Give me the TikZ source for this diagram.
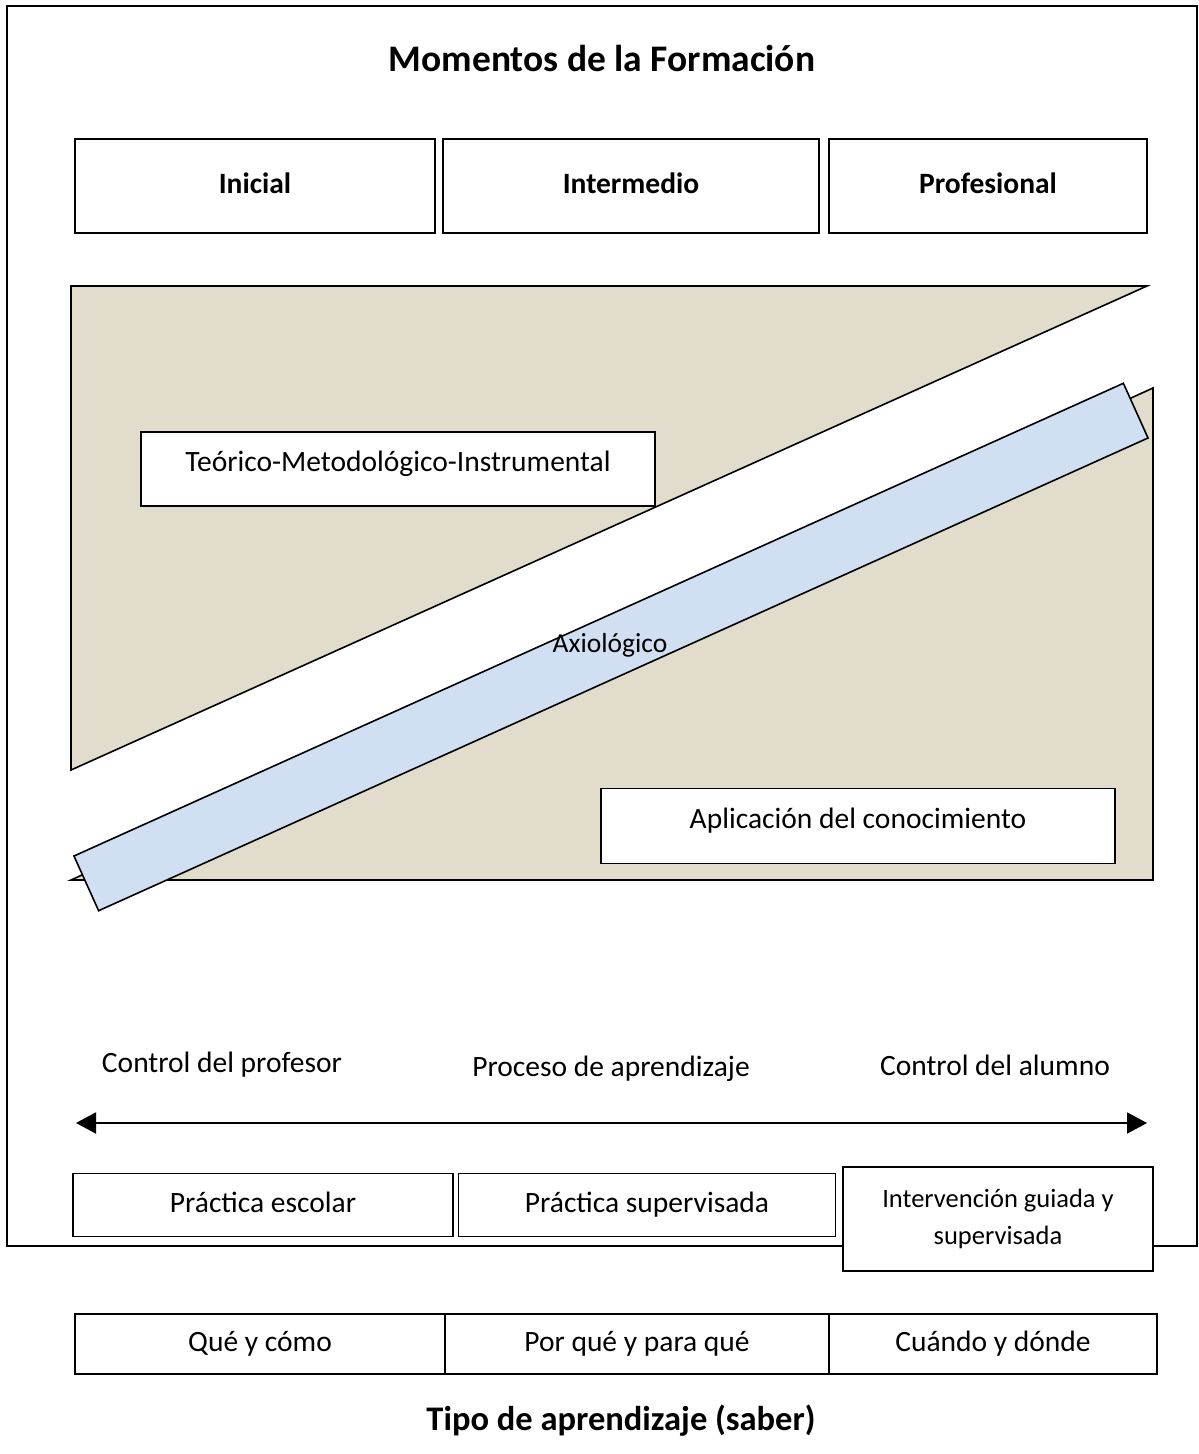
\documentclass[tikz,border=0pt]{standalone}
\usepackage{fontspec}
\setmainfont{Carlito}
\usetikzlibrary{arrows.meta}
\definecolor{tan}{RGB}{225,220,203}
\definecolor{lblue}{RGB}{208,224,242}
\begin{document}
\begin{tikzpicture}[x=1pt,y=-1pt,
  base/.style={draw=black,line width=1.6pt,fill=white,inner sep=0pt,align=center,font=\fontsize{29.5}{35}\selectfont},
  box/.style={base,text height=22pt,text depth=7pt},
  hibox/.style={base,text height=22pt,text depth=18pt},
  hbox/.style={box,font=\bfseries\fontsize{29.5}{35}\selectfont},
  lbl/.style={inner sep=0pt,font=\fontsize{29.5}{35}\selectfont},
  ttl/.style={inner sep=0pt,font=\bfseries\fontsize{37.5}{44}\selectfont}]
\useasboundingbox (0,0) rectangle (1199,1454);
% outer frame
\draw[line width=2pt] (7,6) rectangle (1197,1246);
\node[ttl] (title) at (602,58) {Momentos de la Formación};
% top boxes
\node[hbox,minimum width=360pt,minimum height=94pt] (ini) at (255,186) {Inicial};
\node[hbox,minimum width=376pt,minimum height=94pt] (int) at (631,186) {Intermedio};
\node[hbox,minimum width=318pt,minimum height=94pt] (pro) at (988,186) {Profesional};
% beige triangles
\filldraw[fill=tan,draw=black,line width=1.6pt] (71,286) -- (1147,286) -- (71,770) -- cycle;
\filldraw[fill=tan,draw=black,line width=1.6pt] (71,880) -- (1153,388) -- (1153,880) -- cycle;
% blue band
\node[draw=black,line width=1.6pt,fill=lblue,minimum width=1151pt,minimum height=60pt,inner sep=0pt,rotate=24.25] (band) at (611,647) {};
\node[lbl,font=\fontsize{27.5}{32}\selectfont] (axio) at (610,645) {Axiológico};
% inner boxes
\node[hibox,minimum width=514pt,minimum height=74pt] (teo) at (398,469) {Teórico-Metodológico-Instrumental};
\node[hibox,minimum width=514pt,minimum height=75pt] (apl) at (858,826) {Aplicación del conocimiento};
% labels
\node[lbl] (cprof) at (222,1065) {Control del profesor};
\node[lbl] (proc) at (611,1069) {Proceso de aprendizaje};
\node[lbl] (calum) at (995,1065) {Control del alumno};
\coordinate (aL) at (76,1123);
\coordinate (aR) at (1147,1123);
\draw[line width=2pt,{Triangle[length=20pt,width=21pt]}-{Triangle[length=20pt,width=21pt]}] (aL) -- (aR);
% bottom row in frame
\node[box,minimum width=380pt,minimum height=63pt] (pe) at (263,1205) {Práctica escolar};
\node[box,minimum width=377pt,minimum height=63pt] (ps) at (647,1205) {Práctica supervisada};
\node[base,minimum width=310pt,minimum height=104pt,font=\fontsize{26.5}{37}\selectfont] (ig) at (998,1219) {Intervención guiada y\\supervisada};
% saber row
\node[box,minimum width=370pt,minimum height=60pt] (q1) at (260,1344) {Qué y cómo};
\node[box,minimum width=384pt,minimum height=60pt] (q2) at (637,1344) {Por qué y para qué};
\node[box,minimum width=328pt,minimum height=60pt] (q3) at (993,1344) {Cuándo y dónde};
\node[ttl,font=\bfseries\fontsize{34.5}{40}\selectfont] (tipo) at (621,1421) {Tipo de aprendizaje (saber)};
\end{tikzpicture}
\end{document}
